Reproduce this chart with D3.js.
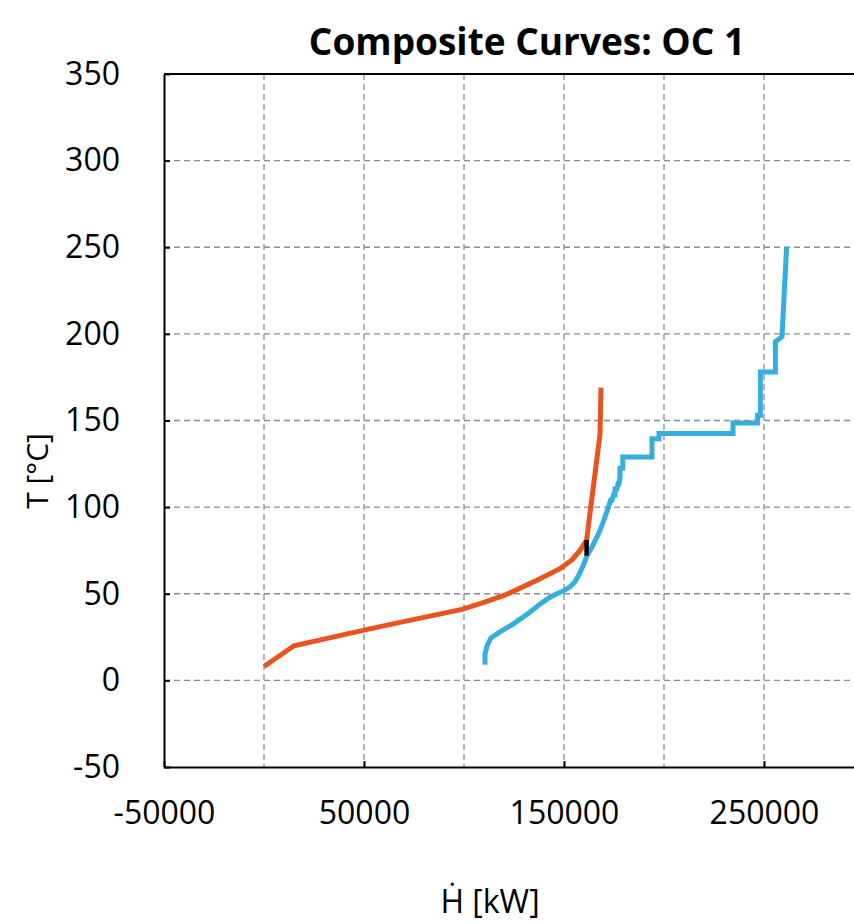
<!DOCTYPE html>
<html>
<head>
<meta charset="utf-8">
<script src="https://cdn.jsdelivr.net/npm/d3@7"></script>
<style>
    body { margin: 0; background: #fff; }
    text { font-family: "Open Sans", "Noto Sans", sans-serif; fill: #000; }
</style>
</head>
<body>
<div id="chart"></div>
<script>
// hot composite curve (H in kW, T in °C)
var hotH = [0, 15000, 50000, 68000, 99000, 110000, 120000, 135000, 148000, 154000, 158000, 161300, 168000, 168500];
var hotT = [8, 20, 29, 33.5, 41, 45, 49, 57, 64.5, 69.5, 75, 81, 142, 169];

// cold composite curve
var coldH = [110500, 110500, 111500, 113500, 118000, 124500, 132000, 138000, 143000, 146500, 149500, 153000, 155500,
    157500, 159500, 161300, 164000, 167000, 169500, 171000, 172200, 173300, 174000, 174700, 175500, 175500, 176500,
    177000, 177500, 178000, 178000, 179400, 179400, 194000, 194000, 197500, 197500, 234500, 234500, 246800, 246800,
    248200, 248200, 255700, 255700, 258000, 259000, 261300];
var coldT = [9, 15, 20, 24.5, 28, 32.5, 38.5, 44, 48, 50, 51.5, 54, 57,
    61, 66, 71.5, 77, 84, 91, 96, 100, 104, 104, 107, 107, 110.5, 110.5,
    113.5, 113.5, 117, 122.5, 122.5, 129, 129, 139.5, 139.5, 142.5, 142.5, 148.5, 148.5, 153,
    153, 178, 178, 195.5, 197.5, 198.5, 250];

// pinch marker
var pinchH = [161300, 161300];
var pinchT = [72, 81];

var xTicks = [-50000, 50000, 150000, 250000];
var xGrid = [0, 50000, 100000, 150000, 200000, 250000, 300000];
var yTicks = [-50, 0, 50, 100, 150, 200, 250, 300, 350];

(function () {
    var width = 854,
        height = 924;

    var svg = d3.select('#chart')
        .append("svg")
        .attr("width", width)
        .attr("height", height);

    var x = d3.scaleLinear().domain([-50000, 350000]).range([164, 964]);
    var y = d3.scaleLinear().domain([-50, 350]).range([767, 74]);

    // grid
    svg.selectAll(".vgrid")
        .data(xGrid)
        .enter().append("line")
        .attr("class", "vgrid")
        .attr("x1", function (d) { return x(d); })
        .attr("x2", function (d) { return x(d); })
        .attr("y1", y(350))
        .attr("y2", y(-50))
        .attr("stroke", "#8c8c8c")
        .attr("stroke-width", 1.3)
        .attr("stroke-dasharray", "6,4");

    svg.selectAll(".hgrid")
        .data(yTicks.slice(1, -1))
        .enter().append("line")
        .attr("class", "hgrid")
        .attr("x1", x(-50000))
        .attr("x2", width)
        .attr("y1", function (d) { return y(d); })
        .attr("y2", function (d) { return y(d); })
        .attr("stroke", "#8c8c8c")
        .attr("stroke-width", 1.3)
        .attr("stroke-dasharray", "6,4");

    // axes
    var fmt = function (d) { return String(d); };
    var xAxis = d3.axisBottom(x).tickValues(xTicks).tickSizeInner(-6).tickSizeOuter(0).tickFormat(fmt);
    var yAxis = d3.axisLeft(y).tickValues(yTicks).tickSizeInner(-6).tickSizeOuter(0)
        .tickPadding(44).tickFormat(fmt);

    var gx = svg.append("g")
        .attr("transform", "translate(0," + y(-50) + ")")
        .call(xAxis);
    var gy = svg.append("g")
        .attr("transform", "translate(" + x(-50000) + ",0)")
        .call(yAxis);

    [gx, gy].forEach(function (g) {
        g.select(".domain").attr("stroke", "#000").attr("stroke-width", 2);
        g.selectAll(".tick line").attr("stroke", "#000").attr("stroke-width", 2);
        g.selectAll(".tick text")
            .attr("font-size", "32px")
            .attr("font-family", "'Open Sans', sans-serif")
            .attr("fill", "#000");
    });
    gx.selectAll(".tick text").attr("y", 57).attr("dy", 0);

    // top frame line
    svg.append("line")
        .attr("x1", x(-50000))
        .attr("x2", width)
        .attr("y1", y(350))
        .attr("y2", y(350))
        .attr("stroke", "#000")
        .attr("stroke-width", 2);

    var line = d3.line()
        .x(function (d) { return x(d[0]); })
        .y(function (d) { return y(d[1]); });

    var hot = d3.zip(hotH, hotT);
    var cold = d3.zip(coldH, coldT);
    var pinch = d3.zip(pinchH, pinchT);

    svg.append("path")
        .datum(hot)
        .attr("d", line)
        .attr("fill", "none")
        .attr("stroke", "#E8531E")
        .attr("stroke-width", 5);

    svg.append("path")
        .datum(cold)
        .attr("d", line)
        .attr("fill", "none")
        .attr("stroke", "#35ADDE")
        .attr("stroke-width", 5);

    svg.append("path")
        .datum(pinch)
        .attr("d", line)
        .attr("fill", "none")
        .attr("stroke", "#000")
        .attr("stroke-width", 4.5);

    // title and labels
    svg.append("text")
        .attr("x", 527)
        .attr("y", 55)
        .attr("text-anchor", "middle")
        .attr("font-size", "37px")
        .attr("font-weight", "bold")
        .text("Composite Curves: OC 1");

    svg.append("text")
        .attr("x", 490)
        .attr("y", 913)
        .attr("text-anchor", "middle")
        .attr("font-size", "32px")
        .text("Ḣ [kW]");

    svg.append("text")
        .attr("transform", "translate(48,471) rotate(-90)")
        .attr("text-anchor", "middle")
        .attr("font-size", "30px")
        .text("T [°C]");
})();
</script>
</body>
</html>
